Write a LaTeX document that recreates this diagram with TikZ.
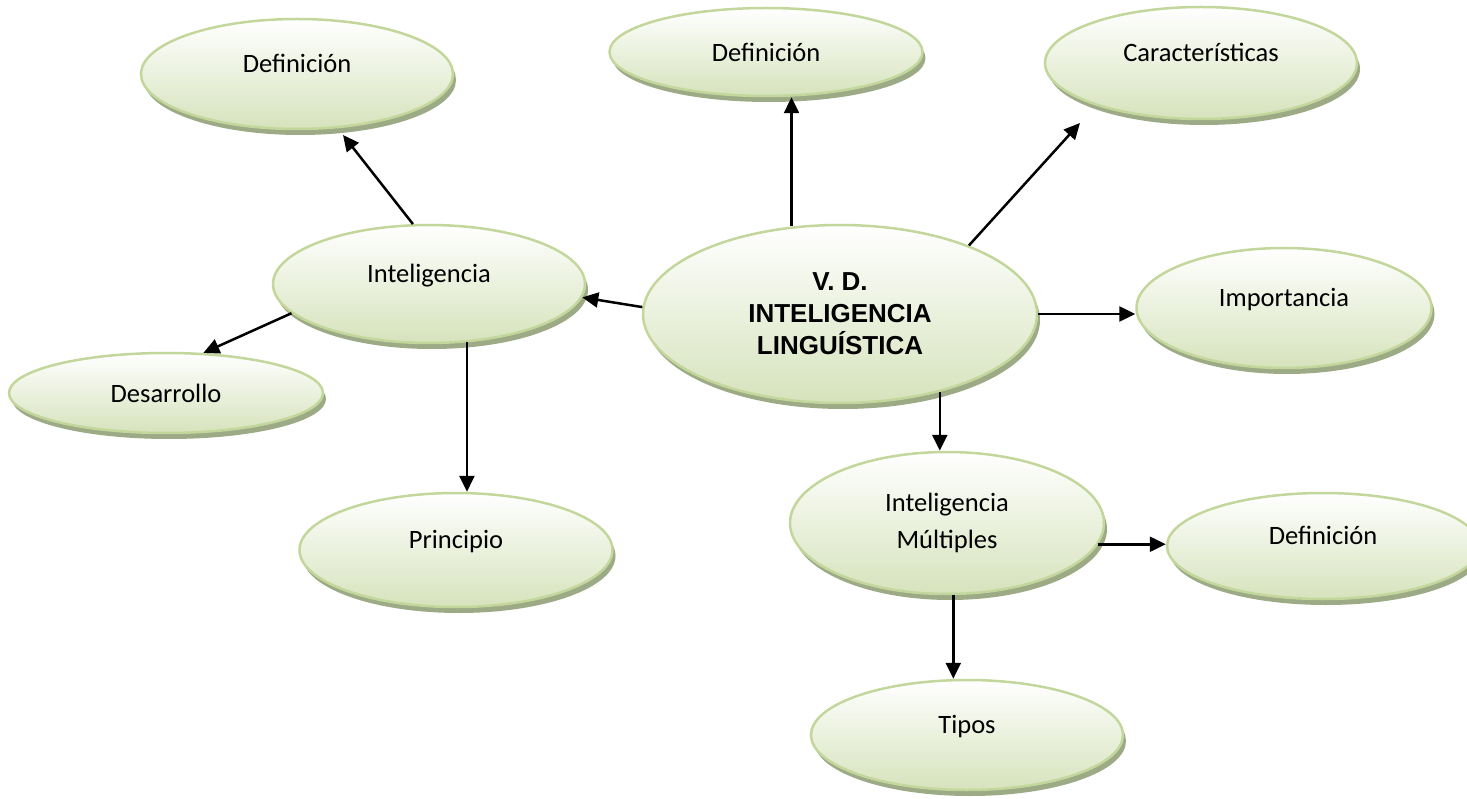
\documentclass[tikz,border=0pt]{standalone}
\usepackage{fontspec}
\setmainfont{Carlito}
\newfontfamily\headfont{Liberation Sans}
\usepackage{tikz}
\definecolor{rimgreen}{RGB}{195, 214, 155}
\definecolor{fillgreen}{RGB}{214, 227, 188}
\definecolor{shadowgreen}{RGB}{156, 170, 134}
\usetikzlibrary{
  arrows.meta,
  calc,
  shadows,
  shapes.geometric,
}
\tikzset{
  >={Triangle[length=16pt,width=15pt]},
  bubble/.style={ellipse, draw=rimgreen, line width=2.5pt,
    top color=white, bottom color=fillgreen,
    drop shadow={shadow xshift=3pt, shadow yshift=-6pt, opacity=1, fill=shadowgreen},
    minimum width=312pt, inner sep=0pt,
    font=\fontsize{26.5}{32}\selectfont},
  raised/.style={text depth=22pt},
  link/.style={->, line width=2.5pt},
}

\begin{document}
\begin{tikzpicture}[x=1pt, y=-1pt]
  \useasboundingbox (0,0) rectangle (1467,799);

  % central idea
  \node [bubble, minimum width=394pt, minimum height=178pt, align=center,
         font=\headfont\bfseries\fontsize{26}{32}\selectfont]
        (vd) at (840,314) {V. D.\\ INTELIGENCIA\\ LINGU\'ISTICA};

  % first ring
  \node [bubble, raised, minimum height=110pt] (defl) at (297,74) {Definición};
  \node [bubble, minimum height=88pt, minimum width=313pt] (deft) at (766,52) {Definición};
  \node [bubble, raised, minimum height=112pt] (carac) at (1201,63) {Características};
  \node [bubble, raised, minimum height=118pt] (intel) at (429,284) {Inteligencia};
  \node [bubble, raised, minimum height=120pt, minimum width=295pt]
        (impor) at (1284,308) {Importancia};
  \node [bubble, minimum height=80pt, minimum width=314pt] (desa) at (166,393) {Desarrollo};
  \node [bubble, raised, minimum height=114pt, minimum width=313pt]
        (princ) at (456,550) {Principio};
  \node [bubble, minimum height=142pt, minimum width=314pt, align=center,
         font=\fontsize{26.5}{37}\selectfont]
        (multi) at (947,523) {Inteligencia\\ Múltiples};
  \node [bubble, raised, minimum height=106pt] (defr) at (1323,546) {Definición};
  \node [bubble, raised, minimum height=110pt] (tipos) at (967,735) {Tipos};

  % connectors
  \draw [link] (vd.119) -- (vd.119 |- deft.south);
  \draw [link] (vd.28) -- ([shift={(-121,60)}]carac.center);
  \draw [link] (vd.178) -- (intel.-5);
  \draw [link] (vd.east) -- (vd.east -| impor.west);
  \draw [link] (vd.-38) -- (vd.-38 |- multi.north);
  \draw [link] (intel.105) -- ([shift={(46,61)}]defl.center);
  \draw [link] (intel.192) -- (desa.47);
  \draw [link] (intel.-57) -- (intel.-57 |- princ.north);
  \draw [link] (multi.-8) -- (multi.-8 -| defr.west);
  \draw [link] (multi.-85) -- (multi.-85 |- tipos.north);
\end{tikzpicture}
\end{document}
